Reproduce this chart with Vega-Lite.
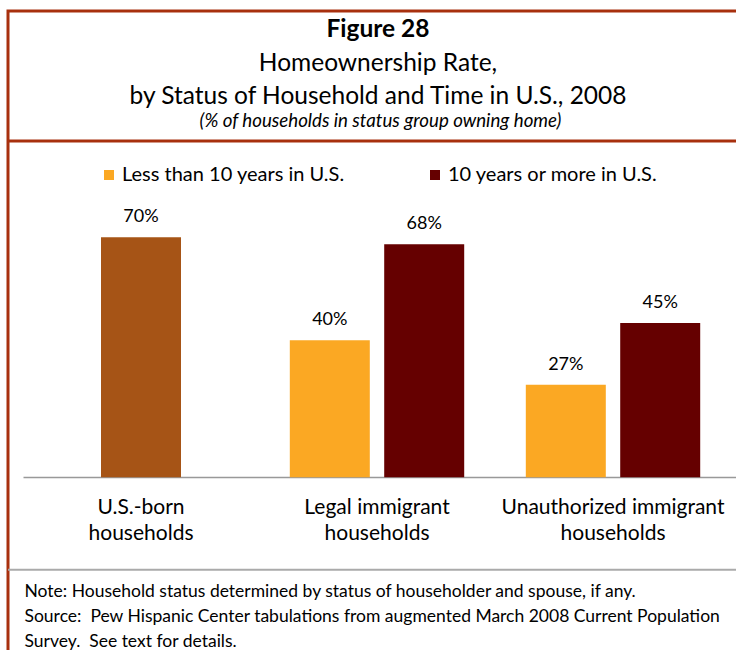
{
  "$schema": "https://vega.github.io/schema/vega-lite/v6.json",
  "autosize": "none",
  "padding": {"left": 8, "top": 11, "right": 0, "bottom": 0},
  "width": 740,
  "height": 660,
  "background": "white",
  "config": {
    "font": "Lato",
    "view": {"stroke": "#A8300E", "strokeWidth": 3}
  },
  "title": {
    "text": "Figure 28",
    "subtitle": ["Homeownership Rate,", "by Status of Household and Time in U.S., 2008"],
    "font": "Lato",
    "fontSize": 24.5,
    "fontWeight": "bold",
    "color": "#000000",
    "subtitleFont": "Lato",
    "subtitleFontSize": 24.5,
    "subtitleColor": "#000000",
    "subtitleLineHeight": 33,
    "subtitlePadding": 9,
    "anchor": "middle",
    "frame": "group",
    "offset": -98
  },
  "data": {
    "values": [
      {"group": "U.S.-born households", "status": "U.S.-born", "value": 0.70},
      {"group": "Legal immigrant households", "status": "Less than 10 years in U.S.", "value": 0.40},
      {"group": "Legal immigrant households", "status": "10 years or more in U.S.", "value": 0.68},
      {"group": "Unauthorized immigrant households", "status": "Less than 10 years in U.S.", "value": 0.27},
      {"group": "Unauthorized immigrant households", "status": "10 years or more in U.S.", "value": 0.45}
    ]
  },
  "layer": [
    {
      "encoding": {
        "x": {
          "field": "group",
          "type": "nominal",
          "sort": ["U.S.-born households", "Legal immigrant households", "Unauthorized immigrant households"],
          "scale": {"range": [15, 740], "paddingInner": 0, "paddingOuter": 0.036, "align": 0},
          "axis": {
            "orient": "bottom",
            "offset": -194,
            "labelAngle": 0,
            "labelExpr": "[replace(datum.label, ' households', ''), 'households']",
            "labelFont": "Lato",
            "labelFontSize": 21,
            "labelColor": "#000000",
            "labelLineHeight": 26,
            "labelPadding": 19,
            "labelLimit": 400,
            "ticks": false,
            "domainColor": "#999999",
            "domainWidth": 1.5,
            "title": [
              "Note: Household status determined by status of householder and spouse, if any.",
              "Source:\u00a0 Pew Hispanic Center tabulations from augmented March 2008 Current Population",
              "Survey.\u00a0 See text for details."
            ],
            "titleFont": "Lato",
            "titleFontSize": 17.5,
            "titleFontWeight": "normal",
            "titleColor": "#000000",
            "titleAlign": "left",
            "titleBaseline": "alphabetic",
            "titleAnchor": "start",
            "titleX": 16,
            "titleY": 119,
            "titleLineHeight": 25,
            "titleLimit": 800
          }
        },
        "xOffset": {
          "field": "status",
          "type": "nominal",
          "scale": {
            "domain": ["Less than 10 years in U.S.", "U.S.-born", "10 years or more in U.S."],
            "paddingInner": 0,
            "paddingOuter": 1.093
          }
        },
        "y": {
          "field": "value",
          "type": "quantitative",
          "scale": {"domain": [-0.565, 1.36], "nice": false, "zero": false},
          "axis": {
            "labels": false,
            "ticks": false,
            "domain": false,
            "grid": false,
            "title": "(% of households in status group owning home)",
            "titleFont": "Lato",
            "titleFontSize": 18.7,
            "titleFontStyle": "italic",
            "titleFontWeight": "normal",
            "titleColor": "#000000",
            "titleAngle": 0,
            "titleAlign": "center",
            "titleBaseline": "alphabetic",
            "titleX": 372,
            "titleY": 115,
            "titleLimit": 800
          }
        }
      },
      "layer": [
        {
          "mark": {"type": "bar", "width": 80},
          "encoding": {
            "color": {
              "field": "status",
              "type": "nominal",
              "scale": {
                "domain": ["Less than 10 years in U.S.", "10 years or more in U.S.", "U.S.-born"],
                "range": ["#FBA823", "#650000", "#A65416"]
              },
              "legend": {
                "values": ["Less than 10 years in U.S.", "10 years or more in U.S."],
                "orient": "none",
                "legendX": 91,
                "legendY": 154,
                "direction": "horizontal",
                "title": null,
                "symbolType": "square",
                "symbolSize": 100,
                "symbolStrokeWidth": 0,
                "labelFont": "Lato",
                "labelFontSize": 20,
                "labelColor": "#000000",
                "labelOffset": 3,
                "labelLimit": 400,
                "columnPadding": 80,
                "padding": 0
              }
            }
          }
        },
        {
          "mark": {"type": "text", "baseline": "alphabetic", "dy": -15, "font": "Lato", "fontSize": 18, "color": "#000000"},
          "encoding": {
            "text": {"field": "value", "type": "quantitative", "format": ".0%"}
          }
        }
      ]
    },
    {
      "data": {"values": [{"line": "title divider"}]},
      "mark": {"type": "rule", "color": "#A8300E", "strokeWidth": 3},
      "encoding": {"y": {"datum": 0.981}}
    },
    {
      "data": {"values": [{"line": "notes divider"}]},
      "mark": {"type": "rule", "color": "#AAAAAA", "strokeWidth": 2},
      "encoding": {"y": {"datum": -0.27}}
    }
  ]
}
